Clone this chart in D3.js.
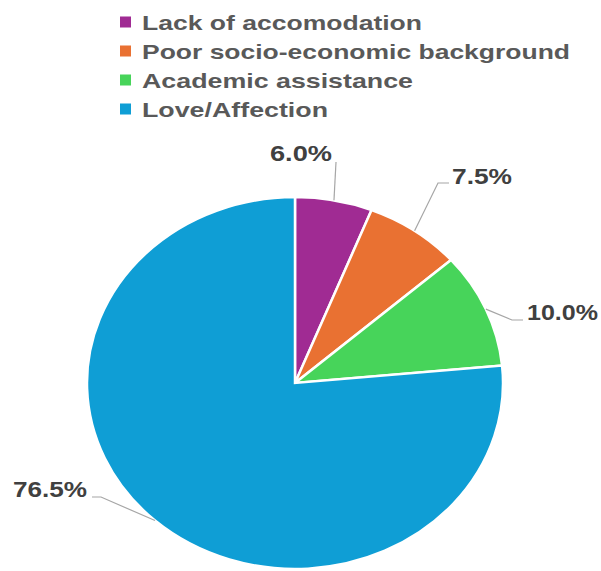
<!DOCTYPE html>
<html>
<head>
<meta charset="utf-8">
<script src="https://cdn.jsdelivr.net/npm/d3@7"></script>
<style>
  html, body { margin: 0; padding: 0; background: #fff; }
  svg { display: block; }
</style>
</head>
<body>
<div id="chart"></div>
<script>
// ---- data ----
const categories = ["Lack of accomodation", "Poor socio-economic background", "Academic assistance", "Love/Affection"];
const values = [6.0, 7.5, 10.0, 76.5];
const labels = ["6.0%", "7.5%", "10.0%", "76.5%"];
const colors = ["#A02B93", "#E97132", "#47D45A", "#0F9ED5"];

// ---- layout ----
const W = 601, H = 571;
const cx = 295, cy = 383, rx = 208, ry = 186;
const sx = rx / ry;

// label layout: text anchor point, text width, leader elbow points
const labelLayout = [
  { tx: 270, ty: 161, tw: 62, pts: [[336, 162]] },
  { tx: 452, ty: 184, tw: 60, pts: [[438, 183], [449, 183]] },
  { tx: 527, ty: 320, tw: 71, pts: [[512, 320], [523, 320]] },
  { tx: 13,  ty: 497, tw: 74, pts: [[101, 497], [92, 497]] }
];
const legendWidths = [280, 428, 271, 186];

const svg = d3.select("#chart").append("svg").attr("width", W).attr("height", H);

// legend
const legend = svg.append("g");
categories.forEach((c, i) => {
  const y = 22 + i * 29;
  legend.append("rect").attr("x", 120).attr("y", y - 5.5).attr("width", 11).attr("height", 11).attr("fill", colors[i]);
  legend.append("text").attr("x", 142).attr("y", y + 7.5)
    .attr("font-family", "Liberation Sans, Arial, sans-serif").attr("font-weight", "bold")
    .attr("font-size", 21).attr("fill", "#595959")
    .attr("textLength", legendWidths[i]).attr("lengthAdjust", "spacingAndGlyphs")
    .text(c);
});

// pie
const pie = d3.pie().sort(null).value(d => d)(values);
const arc = d3.arc().innerRadius(0).outerRadius(ry);
const g = svg.append("g").attr("transform", `translate(${cx},${cy}) scale(${sx},1)`);
g.selectAll("path").data(pie).join("path")
  .attr("d", arc)
  .attr("fill", (d, i) => colors[i])
  .attr("stroke", "#fff").attr("stroke-width", 2.5)
  .attr("vector-effect", "non-scaling-stroke");

// leader lines and labels
pie.forEach((d, i) => {
  const a = (d.startAngle + d.endAngle) / 2;
  const p0 = [cx + rx * Math.sin(a), cy - ry * Math.cos(a)];
  const L = labelLayout[i];
  const pts = [p0].concat(L.pts);
  svg.append("path").attr("d", d3.line()(pts))
    .attr("fill", "none").attr("stroke", "#A6A6A6").attr("stroke-width", 1.2);
  svg.append("text").attr("x", L.tx).attr("y", L.ty)
    .attr("font-family", "Liberation Sans, Arial, sans-serif").attr("font-weight", "bold")
    .attr("font-size", 22).attr("fill", "#404040")
    .attr("textLength", L.tw).attr("lengthAdjust", "spacingAndGlyphs")
    .text(labels[i]);
});
</script>
</body>
</html>
